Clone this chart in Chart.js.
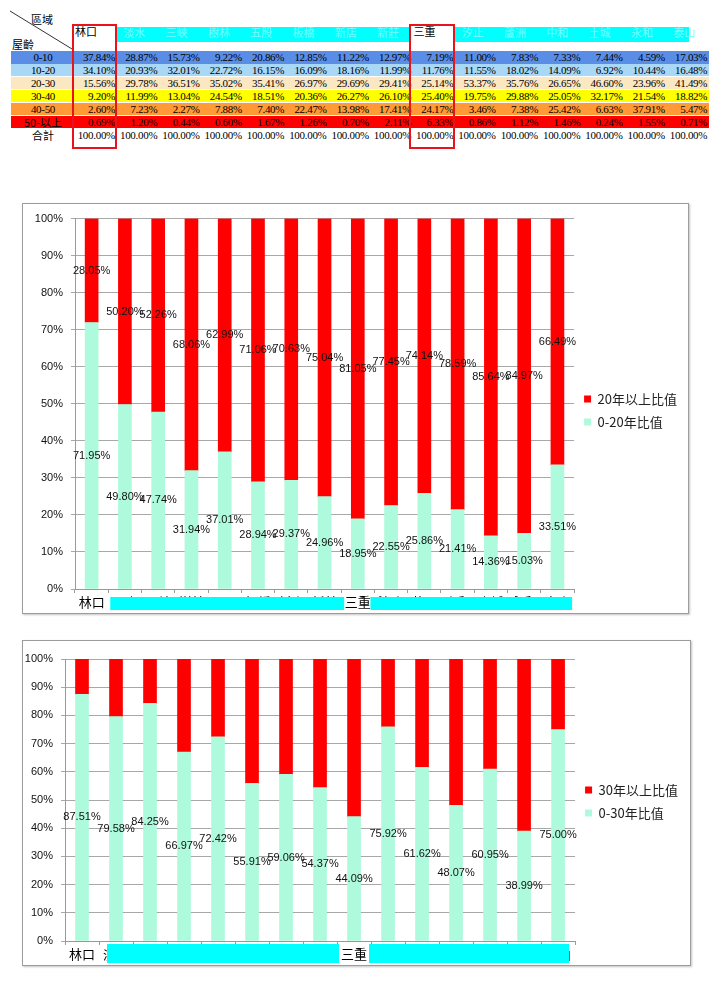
<!DOCTYPE html>
<html>
<head>
<meta charset="utf-8">
<script src="https://cdn.jsdelivr.net/npm/chart.js@4.4.1/dist/chart.umd.min.js"></script>
<style>
body { margin: 0; background: #fff; width: 720px; height: 989px; position: relative; overflow: hidden; }
.cell { position: absolute; font-family: "Liberation Serif", "Noto Sans CJK TC", serif; font-size: 11px; line-height: 13px; white-space: nowrap; color: #000; letter-spacing: -0.3px; }
.cjk { font-family: "Noto Sans CJK TC", sans-serif; font-size: 11px; letter-spacing: 0; }
.box { position: absolute; box-sizing: border-box; border: 1px solid #9c9c9c; box-shadow: 1px 1px 2px #c4c4c4; background: #fff; }
.mark { position: absolute; box-sizing: border-box; border: 2px solid #e8141b; }
</style>
</head>
<body>
<div id="table"></div>
<div class="box" style="left:22px;top:203px;width:667px;height:411px"><canvas id="chart20"></canvas></div>
<div class="box" style="left:22px;top:640px;width:669px;height:326px"><canvas id="chart30"></canvas></div>
<script>
// 區域
var districts = ["林口", "淡水", "三峽", "樹林", "五股", "板橋", "新店", "新莊", "三重", "汐止", "蘆洲", "中和", "土城", "永和", "泰山"];

// 屋齡 table (%)
var ageBands = ["0-10", "10-20", "20-30", "30-40", "40-50", "50-以上"];
var bandColors = ["#5a8de6", "#a8d8f6", "#fbe7c2", "#ffff00", "#ff9a36", "#ff0000"];
var age0_10 = [37.84, 28.87, 15.73, 9.22, 20.86, 12.85, 11.22, 12.97, 7.19, 11.00, 7.83, 7.33, 7.44, 4.59, 17.03];
var age10_20 = [34.10, 20.93, 32.01, 22.72, 16.15, 16.09, 18.16, 11.99, 11.76, 11.55, 18.02, 14.09, 6.92, 10.44, 16.48];
var age20_30 = [15.56, 29.78, 36.51, 35.02, 35.41, 26.97, 29.69, 29.41, 25.14, 53.37, 35.76, 26.65, 46.60, 23.96, 41.49];
var age30_40 = [9.20, 11.99, 13.04, 24.54, 18.51, 20.36, 26.27, 26.10, 25.40, 19.75, 29.88, 25.05, 32.17, 21.54, 18.82];
var age40_50 = [2.60, 7.23, 2.27, 7.88, 7.40, 22.47, 13.98, 17.41, 24.17, 3.46, 7.38, 25.42, 6.63, 37.91, 5.47];
var age50up = [0.69, 1.20, 0.44, 0.60, 1.67, 1.26, 0.70, 2.11, 6.33, 0.86, 1.12, 1.46, 0.24, 1.55, 0.71];
var totals = [100, 100, 100, 100, 100, 100, 100, 100, 100, 100, 100, 100, 100, 100, 100];

// chart 1: 0-20年 / 20年以上
var under20 = [71.95, 49.80, 47.74, 31.94, 37.01, 28.94, 29.37, 24.96, 18.95, 22.55, 25.86, 21.41, 14.36, 15.03, 33.51];
var over20 = [28.05, 50.20, 52.26, 68.06, 62.99, 71.06, 70.63, 75.04, 81.05, 77.45, 74.14, 78.59, 85.64, 84.97, 66.49];

// chart 2: 0-30年 / 30年以上
var under30 = [87.51, 79.58, 84.25, 66.97, 72.42, 55.91, 59.06, 54.37, 44.09, 75.92, 61.62, 48.07, 60.95, 38.99, 75.00];
var over30 = [12.49, 20.42, 15.75, 33.03, 27.58, 44.09, 40.94, 45.63, 55.91, 24.08, 38.38, 51.93, 39.05, 61.01, 25.00];

var yTicks = [0, 10, 20, 30, 40, 50, 60, 70, 80, 90, 100];

// ---- table ----
var table = document.getElementById("table");
function cell(text, left, top, cls, style) {
    var d = document.createElement("div");
    d.className = "cell" + (cls ? " " + cls : "");
    d.style.left = left + "px";
    d.style.top = top + "px";
    if (style) d.style.cssText += style;
    d.textContent = text;
    table.appendChild(d);
    return d;
}
function colRight(i) { return 115 + i * 42.3; }

table.innerHTML = '<svg style="position:absolute;left:0;top:0" width="80" height="55"><line x1="10" y1="11" x2="72" y2="49" stroke="#333" stroke-width="1"/></svg>';
cell("區域", 31, 13, "cjk");
cell("屋齡", 12, 38, "cjk");

// header band (names hidden behind cyan)
cell("", 117, 27, "", "width:292px;height:15px;background:#00ffff");
cell("", 454, 27, "", "width:235px;height:15px;background:#00ffff");
districts.forEach(function (name, i) {
    if (i == 0 || i == 8) {
        cell(name, colRight(i) - 40, 25, "cjk");
    } else {
        cell(name, colRight(i) - 34, 26, "cjk", "color:#7afcfc");
    }
});

var rows = [age0_10, age10_20, age20_30, age30_40, age40_50, age50up];
rows.forEach(function (vals, r) {
    var top = 51 + r * 12.9;
    cell("", 11, top, "", "width:698px;height:12.6px;background:" + bandColors[r]);
    cell(ageBands[r], 11, top, r == 5 ? "cjk" : "", "width:64px;text-align:center");
    vals.forEach(function (v, i) {
        cell(v.toFixed(2) + "%", colRight(i) - 40, top, "", "width:40px;text-align:right");
    });
});
cell("合計", 11, 128.5, "cjk", "width:64px;text-align:center");
totals.forEach(function (v, i) {
    cell(v.toFixed(2) + "%", colRight(i) - 42, 128.5, "", "width:42px;text-align:right");
});

var m1 = document.createElement("div"); m1.className = "mark";
m1.style.cssText = "left:72px;top:24px;width:45px;height:125px";
table.appendChild(m1);
var m2 = document.createElement("div"); m2.className = "mark";
m2.style.cssText = "left:409px;top:24px;width:46px;height:125px";
table.appendChild(m2);

// ---- charts ----
Chart.defaults.font.family = '"Liberation Sans", "Noto Sans CJK TC", sans-serif';
Chart.defaults.animation = false;

var barLabels = {
    id: "barLabels",
    afterDatasetsDraw: function (chart) {
        var ctx = chart.ctx;
        ctx.save();
        ctx.font = '11px "Liberation Sans", sans-serif';
        ctx.fillStyle = "#111";
        ctx.textAlign = "center";
        ctx.textBaseline = "middle";
        chart.data.datasets.forEach(function (ds, i) {
            if (!ds.showValues) return;
            chart.getDatasetMeta(i).data.forEach(function (bar, j) {
                ctx.fillText(ds.data[j].toFixed(2) + "%", bar.x, (bar.y + bar.base) / 2);
            });
        });
        ctx.restore();
    }
};

// cyan boxes over the hidden district names
var coverLabels = {
    id: "coverLabels",
    afterLayout: function (chart, args, opts) {
        // nudge the legend up a bit
        if (chart.legend && opts.legendShift) {
            chart.legend.top += opts.legendShift;
            chart.legend.bottom += opts.legendShift;
        }
    },
    afterDraw: function (chart, args, opts) {
        var x = chart.scales.x;
        var ctx = chart.ctx;
        var half = (x.getPixelForValue(1) - x.getPixelForValue(0)) / 2;
        ctx.save();
        ctx.fillStyle = "#00ffff";
        opts.ranges.forEach(function (r) {
            var l = x.getPixelForValue(r[0]) - half + r[2];
            var rr = x.getPixelForValue(r[1]) + half + r[3];
            ctx.fillRect(l, chart.chartArea.bottom + opts.top, rr - l, opts.height);
        });
        ctx.restore();
    }
};

function stackChart(id, low, high, lowName, highName, labelHigh, pad, xHeight, cover) {
    return new Chart(document.getElementById(id), {
        type: "bar",
        plugins: [barLabels, coverLabels],
        data: {
            labels: districts,
            datasets: [{
                label: lowName,
                data: low,
                backgroundColor: "#aefadc",
                barThickness: 13,
                showValues: true
            }, {
                label: highName,
                data: high,
                backgroundColor: "#ff0000",
                barThickness: 13,
                showValues: labelHigh
            }]
        },
        options: {
            responsive: true,
            maintainAspectRatio: false,
            layout: { padding: pad },
            plugins: {
                legend: {
                    position: "right",
                    reverse: true,
                    labels: {
                        boxWidth: 7,
                        boxHeight: 7,
                        padding: 10,
                        color: "#222",
                        font: { size: 13, family: '"Noto Sans CJK TC", sans-serif' }
                    }
                },
                tooltip: { enabled: false },
                coverLabels: cover
            },
            scales: {
                x: {
                    stacked: true,
                    afterFit: function (axis) { axis.height = xHeight; },
                    grid: { offset: true, drawOnChartArea: false, tickLength: 4, color: "#999" },
                    border: { color: "#999" },
                    ticks: {
                        autoSkip: false,
                        maxRotation: 0,
                        padding: 1,
                        color: "#000",
                        font: { size: 13, family: '"Noto Sans CJK TC", sans-serif' }
                    }
                },
                y: {
                    stacked: true,
                    min: 0,
                    max: 100,
                    afterFit: function (axis) { axis.width = 40; },
                    afterBuildTicks: function (axis) {
                        axis.ticks = yTicks.map(function (v) { return { value: v }; });
                    },
                    grid: { color: "#a8a8a8", tickLength: 4 },
                    border: { color: "#999" },
                    ticks: {
                        padding: 8,
                        color: "#111",
                        font: { size: 11 },
                        callback: function (v) { return v + "%"; }
                    }
                }
            }
        }
    });
}

stackChart("chart20", under20, over20, "0-20年比值", "20年以上比值", true,
    { left: 12, top: 10, right: 1, bottom: 0 }, 24,
    { ranges: [[1, 7, 2, 3], [9, 14, -4, -2]], top: 8, height: 13, legendShift: -3 });

stackChart("chart30", under30, over30, "0-30年比值", "30年以上比值", false,
    { left: 2, top: 18, right: 2, bottom: 1 }, 23,
    { ranges: [[1, 7, 8, 2], [9, 14, -2, -6]], top: 3, height: 19, legendShift: -10 });
</script>
</body>
</html>
